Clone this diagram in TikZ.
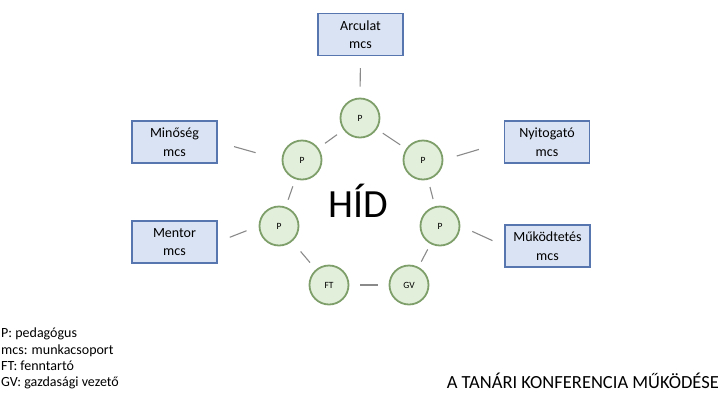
\documentclass[tikz,border=0pt]{standalone}
\usepackage{fontspec}
\setmainfont{Carlito}
\usetikzlibrary{shapes}
\definecolor{boxfill}{HTML}{DAE3F3}
\definecolor{boxline}{HTML}{5775AE}
\definecolor{pfill}{HTML}{E2EFDA}
\definecolor{pline}{HTML}{7E9E6A}
\definecolor{linkgray}{HTML}{8A8A8A}

\begin{document}
\begin{tikzpicture}[x=1pt, y=-1pt]
\tikzstyle{mcsbox}=[rectangle, draw=boxline, fill=boxfill, line width=1.4pt, minimum width=85pt, minimum height=42pt, inner sep=2pt, align=center, font=\fontsize{14}{18.5}\selectfont]
\tikzstyle{member}=[circle, draw=pline, fill=pfill, line width=1.8pt, minimum size=39pt, inner sep=0pt, font=\fontsize{9.5}{11}\selectfont]
\tikzstyle{link}=[draw=linkgray, line width=1.1pt]
\tikzstyle{legend}=[anchor=base west, inner sep=0pt, font=\fontsize{14}{16}\selectfont]

\useasboundingbox (0,0) rectangle (724,392);

% working groups
\node[mcsbox] (B0) at (360.5,34.5) {Arculat\\mcs};
\node[mcsbox] (B1) at (174.5,142) {Minőség\\mcs};
\node[mcsbox] (B2) at (547,142) {Nyitogató\\mcs};
\node[mcsbox] (B3) at (174.5,242) {Mentor\\mcs};
\node[mcsbox] (B4) at (547.5,246) {Működtetés\\mcs};

% the bridge
\node[member] (P0) at (360,118) {P};
\node[member] (P1) at (302,160) {P};
\node[member] (P2) at (423,160) {P};
\node[member] (P3) at (279,226) {P};
\node[member] (P4) at (440,226) {P};
\node[member] (FT) at (329,285) {FT};
\node[member] (GV) at (409,285) {GV};
\node[anchor=base, inner sep=0pt, font=\fontsize{40}{44}\selectfont] (HID) at (358.5,217) {HÍD};

\draw[link, shorten <=8pt, shorten >=8pt] (P0) -- (P1);
\draw[link, shorten <=7.5pt, shorten >=7.5pt] (P1) -- (P3);
\draw[link, shorten <=13pt, shorten >=9pt] (P3) -- (FT);
\draw[link, shorten <=11pt, shorten >=11pt] (FT) -- (GV);
\draw[link, shorten <=6pt, shorten >=6pt] (GV) -- (P4);
\draw[link, shorten <=7.5pt, shorten >=7.5pt] (P4) -- (P2);
\draw[link, shorten <=7pt, shorten >=7pt] (P2) -- (P0);

\draw[link, shorten <=12pt, shorten >=11pt] (B0.south) -- (P0.north);
\draw[link, shorten <=17pt, shorten >=27pt] (B1.east) -- (P1.west);
\draw[link, shorten <=26pt, shorten >=14pt] (B2.west) -- (P2.east);
\draw[link, shorten <=13pt, shorten >=13pt] (B3.east) -- (P3.west);
\draw[link, shorten <=13pt, shorten >=13pt] (B4.west) -- (P4.east);

% legend and title
\node[legend] (L0) at (1,337) {P: pedagógus};
\node[legend] (L1) at (1,354) {mcs: munkacsoport};
\node[legend] (L2) at (1,370) {FT: fenntartó};
\node[legend] (L3) at (1,386) {GV: gazdasági vezető};
\node[anchor=base east, inner sep=0pt, font=\fontsize{18.5}{22}\selectfont] (T) at (719,388) {A TANÁRI KONFERENCIA MŰKÖDÉSE};
\end{tikzpicture}
\end{document}
